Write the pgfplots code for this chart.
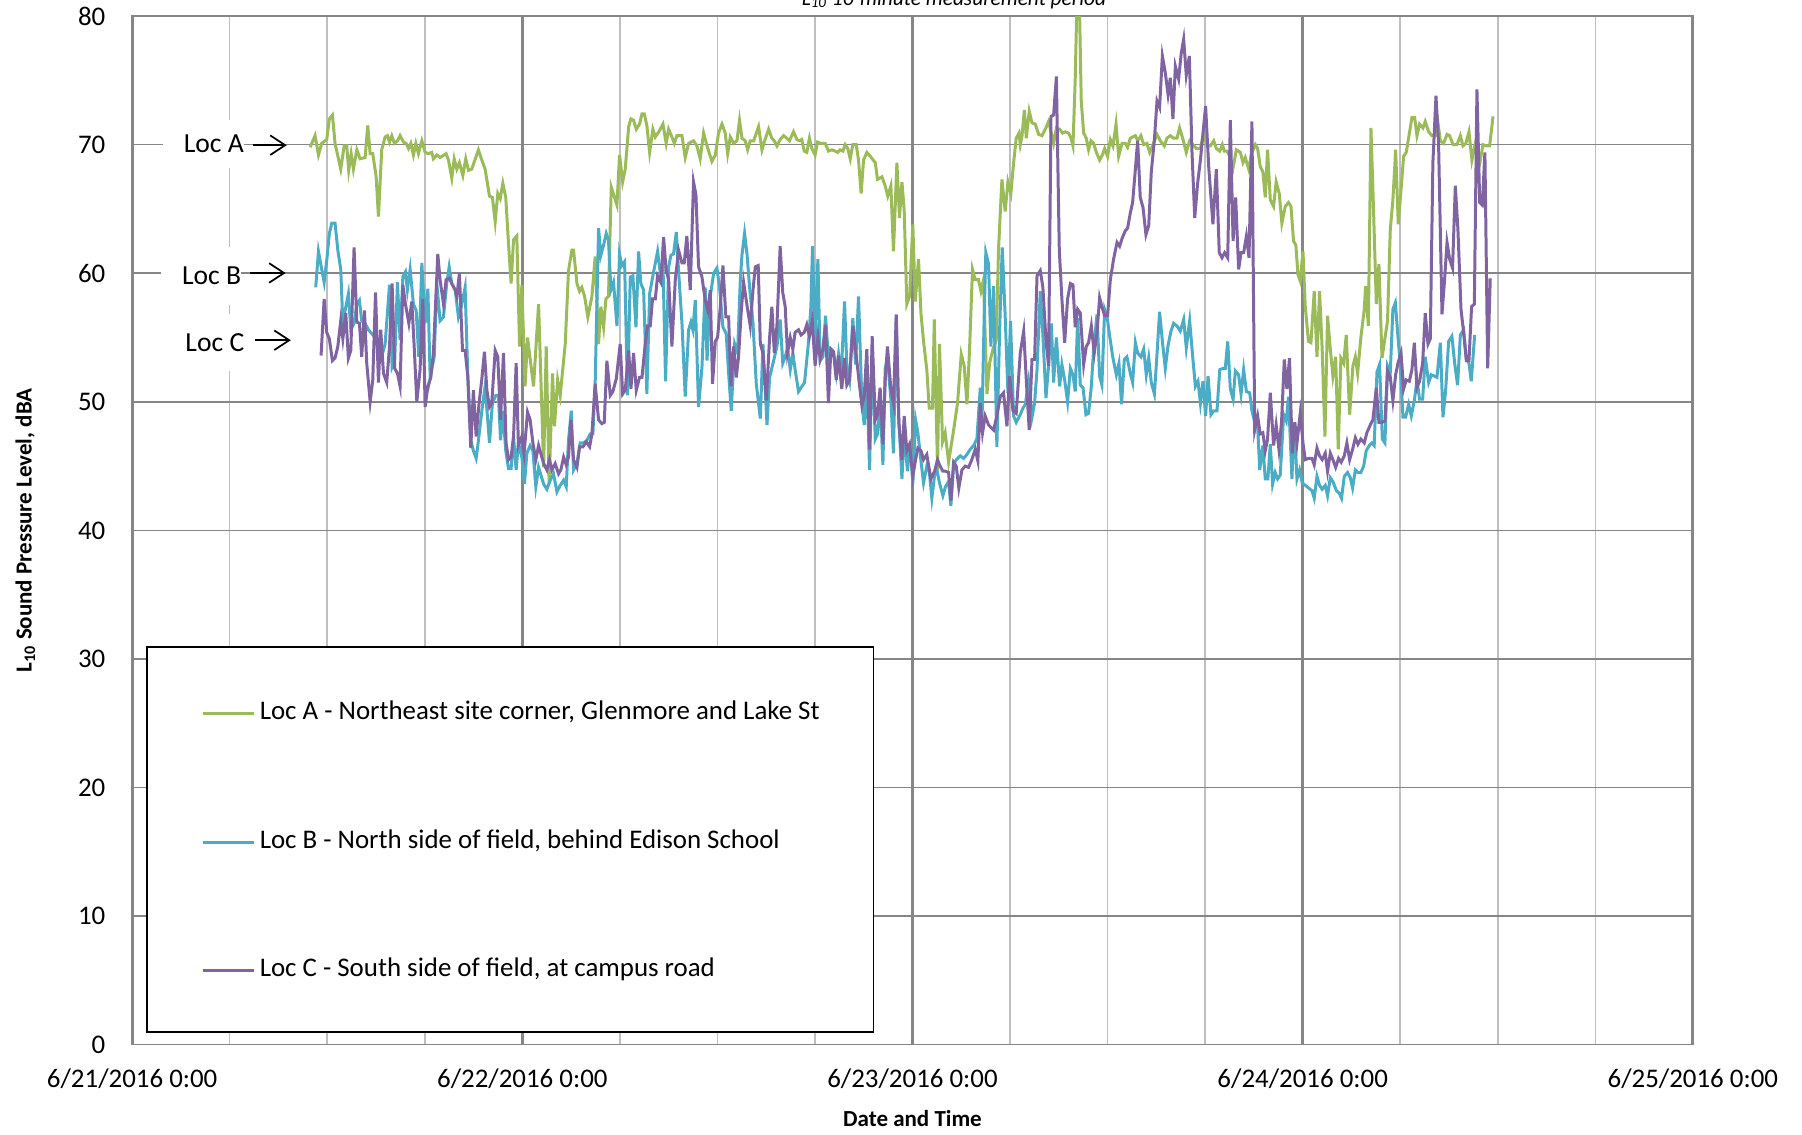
\documentclass[border=0pt]{standalone}
\usepackage{fontspec}
\setmainfont{Carlito}
\usepackage{pgfplots}
\pgfplotsset{compat=1.18}
\usetikzlibrary{arrows.meta}
\definecolor{locA}{HTML}{9BBB59}
\definecolor{locB}{HTML}{4BACC6}
\definecolor{locC}{HTML}{8064A2}
\definecolor{gridmaj}{HTML}{868686}
\definecolor{gridmin}{HTML}{BFBFBF}
\begin{document}
\begin{tikzpicture}
\useasboundingbox (-57.5pt,-39pt) rectangle (726.5pt,454.5pt);
\begin{axis}[
  at={(0pt,0pt)}, anchor=south west,
  scale only axis, width=679pt, height=447.5pt,
  xmin=0, xmax=96, ymin=0, ymax=80,
  clip mode=individual,
  xtick={0,24,48,72,96},
  xticklabels={6/21/2016 0:00,6/22/2016 0:00,6/23/2016 0:00,6/24/2016 0:00,6/25/2016 0:00},
  minor xtick={6,12,18,30,36,42,54,60,66,78,84,90},
  ytick={0,10,...,80},
  major tick length=0pt, minor tick length=0pt,
  xmajorgrids, xminorgrids, ymajorgrids,
  major x grid style={draw=gridmaj, line width=1.4pt},
  minor x grid style={draw=gridmin, line width=0.65pt},
  major y grid style={draw=gridmaj, line width=0.7pt},
  axis line style={draw=gridmaj, line width=0.7pt},
  /pgf/number format/assume math mode=true,
  tick label style={font=\fontsize{11.7}{13.5}\selectfont},
  yticklabel style={anchor=east, inner sep=0pt, xshift=-11.5pt},
  xticklabel style={anchor=center, yshift=-15pt},
  xlabel={\textbf{Date and Time}},
  ylabel={\textbf{L\textsubscript{10} Sound Pressure Level, dBA}},
  label style={font=\fontsize{12.5}{14}\selectfont},
  every axis x label/.style={at={(axis description cs:0.5,0)}, yshift=-32pt, anchor=center},
  every axis y label/.style={at={(axis description cs:0,0.5)}, xshift=-46.5pt, rotate=90, anchor=center},
  legend cell align=left,
  legend image code/.code={\draw[#1] (0pt,0pt) -- (22.5pt,0pt);},
  legend style={
    at={(axis description cs:0.0442,0.3363)}, anchor=north west,
    draw=none, fill=none, inner sep=0pt, outer sep=0pt,
    row sep=42.94pt, column sep=1.2pt,
    font=\fontsize{11.7}{13.5}\selectfont,
    nodes={inner xsep=0.5pt, inner ysep=2pt, text height=7pt, text depth=2pt},
  },
]
\draw[black, line width=0.8pt, fill=white] (axis cs:0.92,0.98) rectangle (axis cs:45.6,30.92);

\addplot[locA, line width=1.3pt] table {
10.95 69.8
11.25 70.7
11.46 69.2
11.66 70.1
11.97 70.4
12.13 72.0
12.32 72.3
12.48 70.1
12.83 68.1
13.04 69.9
13.20 69.9
13.32 68.0
13.47 69.3
13.61 68.1
13.82 69.6
14.02 68.9
14.33 69.0
14.49 71.5
14.64 69.3
14.80 69.3
15.01 67.5
15.15 64.4
15.35 69.6
15.56 70.6
15.70 70.7
15.83 70.2
15.97 70.7
16.13 70.1
16.32 70.3
16.48 70.7
16.69 70.2
16.85 70.1
17.00 69.7
17.14 70.1
17.30 69.2
17.45 70.1
17.61 69.3
17.82 70.3
18.02 69.4
18.23 69.3
18.43 69.4
18.53 68.9
18.74 69.2
18.94 69.0
19.31 69.3
19.46 68.8
19.66 67.4
19.81 68.9
19.97 68.1
20.13 68.6
20.34 67.6
20.52 68.9
20.69 68.0
20.89 68.1
21.30 69.6
21.51 68.8
21.71 68.1
21.98 66.0
22.16 65.9
22.33 64.0
22.49 66.2
22.64 65.8
22.80 67.0
22.98 65.9
23.15 62.3
23.31 59.2
23.46 62.6
23.66 62.9
23.83 54.3
23.97 59.1
24.17 51.2
24.32 55.0
24.69 51.2
25.00 57.6
25.31 44.9
25.47 54.3
25.65 43.6
25.86 52.2
25.98 48.1
26.17 51.7
26.33 50.5
26.64 54.5
26.84 60.2
27.05 61.8
27.15 61.8
27.36 59.2
27.52 58.6
27.66 58.9
27.83 58.2
28.03 56.6
28.28 58.2
28.48 61.3
28.69 54.5
28.83 57.4
29.00 55.8
29.14 58.0
29.30 58.2
29.47 66.7
29.82 65.3
29.98 69.2
30.17 67.1
30.33 68.1
30.54 71.4
30.68 72.0
30.84 71.9
31.01 71.2
31.21 71.6
31.36 72.4
31.50 72.4
31.66 71.5
31.83 69.4
32.03 71.2
32.18 70.6
32.44 71.1
32.65 71.6
32.85 70.1
33.00 71.2
33.20 70.6
33.35 70.1
33.51 70.7
33.82 70.7
34.02 69.0
34.23 70.1
34.53 70.3
34.74 69.9
34.94 68.9
35.15 70.9
35.36 69.9
35.66 68.7
35.87 69.2
36.07 70.9
36.28 71.6
36.48 70.9
36.63 69.3
36.79 70.6
37.00 70.1
37.20 70.3
37.36 71.9
37.51 70.5
37.71 70.3
37.86 69.6
38.02 70.3
38.23 70.3
38.53 71.4
38.74 69.6
38.88 70.2
39.15 71.2
39.35 70.5
39.50 70.3
39.66 69.9
39.86 70.4
40.07 70.7
40.27 70.5
40.43 70.3
40.68 71.0
40.89 70.4
41.05 70.3
41.19 70.4
41.34 69.5
41.50 69.4
41.66 70.5
41.81 69.7
42.01 69.2
42.16 70.2
42.36 70.1
42.63 70.1
42.83 69.5
43.04 69.6
43.24 69.5
43.39 69.4
43.55 69.6
43.72 69.5
43.86 70.0
44.02 69.7
44.17 68.9
44.33 70.0
44.54 70.0
44.68 68.8
44.84 66.2
44.99 68.8
45.19 69.4
45.40 69.1
45.71 68.6
45.85 67.3
46.12 67.5
46.32 66.8
46.48 66.0
46.67 66.8
46.83 61.7
47.04 68.6
47.20 64.3
47.35 67.1
47.49 64.9
47.65 57.6
47.82 58.2
48.02 63.8
48.17 57.8
48.37 61.1
48.52 56.9
48.68 54.7
48.88 52.5
49.03 49.5
49.23 49.5
49.34 56.4
49.54 44.7
49.66 54.5
49.85 46.9
50.01 47.6
50.22 45.3
50.53 47.8
50.77 49.9
51.00 53.7
51.18 52.8
51.35 49.8
51.51 54.1
51.69 60.3
51.86 59.5
52.06 59.5
52.21 58.6
52.37 59.5
52.58 50.6
52.74 53.0
52.95 54.1
53.15 54.8
53.29 61.8
53.50 67.3
53.70 64.8
53.87 67.1
54.05 66.2
54.22 68.6
54.38 70.5
54.55 70.9
54.63 70.0
54.73 70.6
54.88 72.7
55.00 70.5
55.18 72.6
55.35 71.7
55.55 71.6
55.76 70.8
55.96 70.7
56.17 71.2
56.37 71.8
56.52 71.0
56.68 70.1
56.85 71.3
57.05 71.2
57.23 70.9
57.40 71.0
57.60 70.9
57.75 70.5
57.87 69.9
58.01 75.1
58.12 81.5
58.26 81.5
58.38 73.4
58.53 70.9
58.69 70.5
58.83 69.6
58.98 70.3
59.14 70.1
59.31 69.4
59.51 68.8
59.68 69.2
59.82 69.7
60.00 69.1
60.17 70.4
60.33 69.9
60.52 71.6
60.68 69.1
60.89 70.1
61.09 70.1
61.23 69.8
61.40 70.5
61.71 70.7
61.85 70.3
62.05 70.7
62.22 70.0
62.42 70.1
62.59 69.4
62.79 70.0
63.04 70.8
63.24 70.3
63.49 69.9
63.65 70.5
63.86 70.7
64.06 70.5
64.27 70.5
64.43 71.3
64.64 70.4
64.84 69.4
65.05 70.3
65.25 70.0
65.46 69.7
65.71 69.7
65.91 70.9
66.12 69.9
66.32 69.9
66.53 70.3
66.69 69.7
66.90 69.5
67.06 70.0
67.18 69.5
67.35 69.5
67.51 69.1
67.72 68.2
67.92 69.6
68.17 69.4
68.33 68.6
68.47 69.0
68.68 68.1
68.88 69.4
69.09 70.0
69.23 69.7
69.39 68.3
69.55 67.9
69.70 65.9
69.84 69.6
70.01 65.7
70.21 65.2
70.37 67.1
70.56 66.2
70.72 63.9
70.93 65.2
71.13 65.5
71.28 65.2
71.44 62.5
71.58 62.2
71.71 59.9
71.85 59.4
72.02 61.7
72.16 57.4
72.36 54.7
72.51 54.6
72.71 58.6
72.88 53.5
73.04 58.6
73.20 54.1
73.37 47.3
73.53 56.7
73.70 54.1
73.86 52.0
74.03 53.5
74.19 46.3
74.35 53.4
74.52 53.0
74.68 55.2
74.89 49.0
75.09 52.8
75.24 53.5
75.38 52.2
75.58 55.0
75.79 57.2
75.87 59.0
76.04 55.9
76.20 71.3
76.36 64.9
76.53 57.6
76.69 60.7
76.88 53.4
77.08 55.1
77.22 56.3
77.39 63.4
77.55 65.7
77.72 69.6
77.88 63.8
78.05 66.5
78.21 69.1
78.37 69.4
78.54 70.7
78.72 72.1
78.89 72.1
79.03 70.7
79.19 71.6
79.40 71.3
79.54 71.8
79.75 71.0
79.95 70.7
80.16 70.7
80.32 71.7
80.47 70.3
80.67 70.1
80.88 70.8
81.04 70.7
81.25 70.0
81.49 70.0
81.70 70.7
81.86 69.9
82.04 70.1
82.23 71.0
82.41 68.8
82.62 70.1
82.76 69.6
82.93 68.8
83.09 70.0
83.30 69.9
83.50 69.9
83.71 72.2
};
\addlegendentry{Loc A - Northeast site corner, Glenmore and Lake St}

\addplot[locB, line width=1.3pt] table {
11.29 58.9
11.46 61.7
11.66 60.3
11.81 59.3
11.97 61.0
12.13 63.1
12.28 63.9
12.48 63.9
12.65 61.8
12.83 60.3
12.96 56.1
13.10 57.1
13.30 58.4
13.45 55.6
13.65 56.1
13.82 57.6
13.98 57.9
14.12 56.3
14.33 56.1
14.53 55.6
14.74 55.3
14.94 55.0
15.15 54.8
15.35 53.5
15.56 54.5
15.83 59.1
15.99 52.7
16.15 53.2
16.32 59.3
16.48 54.8
16.65 59.7
16.81 60.1
16.93 58.7
17.10 60.3
17.30 57.6
17.47 57.1
17.63 53.5
17.82 60.8
18.02 56.1
18.19 58.8
18.33 51.9
18.58 53.5
18.74 59.2
18.94 56.3
19.15 56.6
19.35 59.2
19.50 60.5
19.66 59.2
19.87 58.7
20.07 56.6
20.28 57.6
20.48 58.9
20.65 51.9
20.83 47.0
20.99 46.2
21.16 45.6
21.30 47.0
21.51 49.3
21.71 51.2
21.98 46.8
22.16 49.9
22.37 50.5
22.53 50.5
22.66 47.0
22.80 49.3
22.98 46.2
23.15 44.8
23.31 44.8
23.46 47.3
23.62 44.7
23.76 46.8
23.97 45.7
24.13 43.6
24.28 46.0
24.48 46.6
24.65 46.2
24.83 43.4
25.00 44.9
25.31 43.6
25.51 43.2
25.72 43.9
25.92 44.4
26.13 43.0
26.33 43.5
26.54 43.9
26.70 43.4
26.84 47.0
27.01 49.3
27.15 44.7
27.36 45.2
27.56 46.8
27.77 46.8
27.97 47.0
28.18 47.5
28.34 47.5
28.48 51.4
28.69 63.5
28.83 61.4
29.00 62.2
29.16 63.1
29.30 62.6
29.45 58.7
29.61 59.3
29.82 55.9
29.98 61.5
30.12 60.6
30.29 60.9
30.47 50.5
30.64 59.7
30.80 59.8
30.99 55.8
31.15 61.7
31.29 59.2
31.46 58.7
31.66 50.6
31.83 58.4
32.03 59.8
32.32 61.7
32.48 60.1
32.65 60.8
32.81 51.6
33.00 60.5
33.14 61.4
33.30 61.5
33.47 63.2
33.61 60.2
33.82 56.1
34.02 50.4
34.23 55.6
34.37 56.2
34.49 55.6
34.64 57.9
34.84 49.6
35.05 52.7
35.25 58.9
35.36 53.2
35.56 58.2
35.77 60.0
35.97 60.4
36.13 58.9
36.34 55.8
36.54 55.3
36.69 52.2
36.85 49.3
37.06 54.5
37.24 53.8
37.41 59.5
37.51 61.4
37.67 63.1
37.82 61.5
37.98 58.9
38.19 56.1
38.39 51.4
38.64 48.7
38.80 54.5
39.05 48.2
39.21 51.9
39.46 53.2
39.66 54.3
39.86 56.4
40.02 53.0
40.17 53.5
40.31 54.2
40.48 52.5
40.64 53.8
40.78 52.5
40.99 50.8
41.15 51.1
41.36 51.5
41.60 54.6
41.75 57.4
41.85 62.1
42.01 54.3
42.18 61.1
42.32 53.2
42.49 53.5
42.65 56.7
42.83 53.3
42.98 54.1
43.14 53.9
43.31 52.2
43.45 53.7
43.61 51.9
43.82 57.8
43.96 52.8
44.13 51.7
44.33 56.5
44.50 52.9
44.68 58.2
44.89 49.9
45.03 48.2
45.19 51.7
45.36 44.7
45.52 54.1
45.71 47.1
45.85 47.5
46.01 50.2
46.18 45.1
46.32 52.6
46.46 53.4
46.67 50.2
46.83 46.0
47.00 56.5
47.16 48.5
47.35 44.0
47.49 47.6
47.69 44.6
47.86 46.8
48.02 43.6
48.19 48.6
48.33 47.6
48.52 45.4
48.68 43.7
48.88 45.0
49.03 44.6
49.19 42.5
49.36 44.3
49.50 44.7
49.66 43.7
49.87 42.7
50.03 43.4
50.22 43.8
50.36 41.9
50.53 45.1
50.69 45.5
50.94 45.8
51.14 45.6
51.35 45.9
51.55 46.3
51.76 46.6
51.96 47.1
52.17 51.1
52.27 48.1
52.41 56.7
52.51 61.6
52.68 60.7
52.82 54.3
52.99 59.0
53.19 46.5
53.36 55.6
53.52 62.0
53.70 56.7
53.87 50.7
54.03 56.3
54.22 48.9
54.38 48.4
54.63 49.0
54.79 49.5
54.94 49.8
55.14 51.6
55.35 48.8
55.51 49.9
55.66 52.5
55.86 58.6
56.02 55.2
56.21 50.3
56.37 52.8
56.54 56.1
56.68 51.5
56.85 55.0
57.05 51.2
57.19 52.9
57.36 51.7
57.54 50.0
57.71 52.6
57.87 52.1
58.01 50.8
58.16 56.5
58.32 51.3
58.49 51.1
58.67 49.0
58.83 49.1
59.00 51.2
59.14 54.1
59.35 56.8
59.51 52.0
59.65 51.3
59.82 57.2
59.96 56.7
60.13 55.1
60.33 53.4
60.54 52.1
60.70 53.0
60.86 49.8
61.03 53.3
61.19 53.5
61.40 52.2
61.54 51.5
61.71 54.6
61.85 53.8
62.05 53.5
62.22 54.1
62.38 52.1
62.53 53.4
62.69 51.5
62.88 50.6
63.04 53.7
63.20 57.0
63.37 54.7
63.55 52.6
63.72 54.4
63.90 55.5
64.06 56.1
64.27 55.9
64.47 55.5
64.68 56.4
64.84 54.2
65.05 56.3
65.25 53.3
65.40 51.2
65.56 51.6
65.71 49.9
65.87 51.6
66.03 48.9
66.18 52.0
66.36 49.0
66.53 49.3
66.73 49.3
66.90 52.5
67.10 52.6
67.24 52.6
67.39 54.7
67.55 51.0
67.72 50.2
67.86 52.4
68.06 52.1
68.21 50.6
68.37 52.5
68.54 50.8
68.74 50.7
68.88 49.3
69.09 48.2
69.23 48.1
69.36 44.7
69.55 46.6
69.70 44.0
69.86 44.0
70.01 46.7
70.15 43.6
70.31 44.5
70.46 44.0
70.62 44.3
70.83 49.0
70.99 48.5
71.13 50.4
71.34 44.0
71.48 48.4
71.65 44.0
71.81 44.7
71.97 43.7
72.16 43.5
72.36 43.3
72.57 43.1
72.71 42.5
72.88 44.2
73.04 43.5
73.20 43.2
73.39 43.5
73.53 42.7
73.70 44.1
73.86 43.8
74.07 43.1
74.25 42.9
74.39 42.5
74.56 44.2
74.76 44.5
74.93 44.1
75.07 43.3
75.24 44.7
75.40 44.5
75.58 44.5
75.75 45.0
75.91 46.2
76.10 46.6
76.26 46.8
76.40 46.6
76.57 52.3
76.73 52.9
76.90 47.1
77.06 46.8
77.22 52.8
77.39 52.3
77.55 57.2
77.70 57.7
77.86 55.1
78.00 52.9
78.17 48.8
78.33 48.8
78.52 49.8
78.68 48.9
78.87 50.1
79.03 51.7
79.19 50.2
79.38 50.2
79.54 53.5
79.75 51.5
79.91 52.1
80.10 52.0
80.26 51.9
80.47 54.6
80.63 48.8
80.79 50.8
80.98 54.7
81.18 55.1
81.35 53.0
81.53 51.3
81.70 55.2
81.90 55.6
82.07 53.3
82.23 53.0
82.37 51.6
82.58 55.2
};
\addlegendentry{Loc B - North side of field, behind Edison School}

\addplot[locC, line width=1.3pt] table {
11.62 53.6
11.81 58.0
11.97 55.4
12.13 54.9
12.32 53.2
12.48 53.4
12.65 54.3
12.83 56.3
12.96 54.9
13.14 56.9
13.30 53.4
13.45 54.0
13.65 62.0
13.82 56.2
13.98 56.1
14.12 53.5
14.29 57.1
14.43 53.0
14.64 50.0
14.80 51.7
14.97 58.5
15.15 51.5
15.29 55.6
15.46 52.2
15.66 51.5
15.83 54.3
15.99 59.2
16.15 52.6
16.32 52.2
16.48 51.2
16.65 59.1
16.81 57.6
17.02 56.1
17.20 57.8
17.34 54.5
17.51 50.0
17.71 52.5
17.88 58.0
18.02 49.6
18.19 51.2
18.37 51.9
18.53 53.8
18.80 61.5
18.94 59.5
19.15 57.6
19.31 59.5
19.52 59.6
19.66 59.2
19.87 58.7
19.97 58.2
20.13 60.0
20.32 54.0
20.48 54.0
20.65 51.9
20.83 46.4
20.99 50.9
21.16 47.3
21.34 49.9
21.51 51.8
21.67 53.9
21.82 50.9
21.98 49.6
22.12 49.9
22.33 54.0
22.49 53.5
22.66 48.6
22.84 53.8
23.00 46.8
23.15 45.5
23.31 45.7
23.46 47.3
23.62 53.0
23.76 46.6
23.97 47.3
24.11 46.0
24.32 49.2
24.48 48.6
24.65 46.8
24.83 45.5
25.00 46.6
25.31 45.2
25.51 44.7
25.67 45.5
25.82 44.7
26.02 45.2
26.23 44.4
26.37 44.7
26.54 45.7
26.70 45.1
26.84 45.7
26.99 48.6
27.15 45.5
27.36 44.9
27.52 46.5
27.73 46.5
27.93 46.9
28.14 46.5
28.28 47.5
28.48 51.4
28.69 48.6
28.89 48.3
29.04 48.4
29.20 53.2
29.41 50.5
29.57 50.8
29.78 51.8
30.02 54.5
30.17 50.6
30.33 50.9
30.54 54.0
30.68 51.0
30.84 53.8
31.01 50.9
31.21 51.9
31.36 51.9
31.56 54.5
31.70 55.9
31.87 55.9
32.01 58.0
32.18 58.0
32.32 59.8
32.52 59.3
32.69 62.8
32.85 60.2
33.00 59.5
33.20 54.3
33.41 59.5
33.61 61.8
33.82 60.8
33.96 60.8
34.12 62.9
34.33 58.7
34.53 67.1
34.68 66.1
34.84 60.5
35.05 59.7
35.25 57.9
35.41 57.1
35.56 58.7
35.70 51.4
35.87 54.7
36.01 55.0
36.18 57.4
36.34 60.6
36.52 56.6
36.69 56.6
36.83 51.2
37.00 54.3
37.16 51.9
37.30 53.5
37.47 57.1
37.61 59.3
37.82 57.5
38.02 55.9
38.19 58.7
38.33 60.5
38.51 60.6
38.64 54.5
38.80 53.8
39.01 50.1
39.21 55.0
39.35 57.4
39.50 53.8
39.66 55.9
39.86 62.1
40.02 58.5
40.17 57.4
40.31 53.8
40.48 55.0
40.64 54.1
40.78 55.4
40.99 55.6
41.15 55.2
41.34 55.4
41.50 56.0
41.66 55.1
41.83 56.3
42.01 52.8
42.18 55.0
42.32 53.3
42.49 54.1
42.65 56.0
42.83 49.9
42.98 54.1
43.14 53.9
43.31 51.7
43.45 53.6
43.65 51.0
43.82 53.4
43.96 51.3
44.13 51.7
44.33 55.9
44.54 53.6
44.72 51.5
44.89 49.7
45.03 50.4
45.19 54.1
45.36 46.3
45.52 55.1
45.71 48.6
45.85 49.0
46.01 51.1
46.18 46.7
46.32 51.6
46.46 54.3
46.67 51.0
46.83 49.9
47.00 56.8
47.16 48.4
47.35 45.5
47.49 48.9
47.65 46.2
47.82 46.7
48.02 44.2
48.19 45.5
48.33 46.4
48.52 46.2
48.68 45.5
48.88 45.9
49.13 44.0
49.36 44.6
49.54 45.5
49.66 45.1
49.87 44.6
50.03 44.6
50.22 44.5
50.36 42.3
50.53 45.3
50.69 45.0
50.85 43.3
51.04 44.7
51.24 45.0
51.45 44.9
51.65 45.5
51.86 46.3
52.02 45.4
52.17 49.9
52.31 47.6
52.47 48.9
52.68 48.2
52.99 47.8
53.19 48.9
53.40 50.4
53.60 50.7
53.81 48.1
53.97 52.0
54.18 49.3
54.38 49.1
54.63 53.8
54.84 55.5
55.00 51.7
55.18 47.8
55.35 53.3
55.51 53.3
55.66 59.8
55.86 60.2
56.02 58.9
56.21 54.8
56.37 52.8
56.52 72.2
56.68 72.3
56.85 75.3
57.03 61.8
57.19 58.0
57.36 54.6
57.54 58.0
57.71 59.2
57.87 59.1
58.01 55.8
58.16 57.2
58.32 56.9
58.53 52.9
58.69 54.3
58.83 54.6
59.00 55.9
59.18 53.8
59.35 55.4
59.51 58.1
59.65 57.4
59.82 56.7
60.00 56.7
60.17 59.5
60.37 61.1
60.58 62.4
60.74 62.1
60.89 62.7
61.09 63.3
61.23 63.5
61.40 64.7
61.54 65.5
61.71 68.1
61.85 70.3
62.01 65.9
62.18 65.1
62.36 63.0
62.53 63.7
62.69 67.9
62.88 70.4
63.04 73.4
63.20 72.9
63.37 76.9
63.55 75.6
63.72 73.9
63.86 75.2
64.02 72.0
64.17 76.1
64.37 75.1
64.53 77.1
64.68 78.2
64.84 75.4
65.03 76.9
65.19 69.5
65.36 64.3
65.54 67.0
65.71 68.8
65.87 70.9
66.03 73.0
66.22 68.3
66.48 63.8
66.69 68.1
66.87 61.6
67.04 61.2
67.20 61.6
67.39 61.2
67.55 71.9
67.72 62.5
67.88 65.9
68.06 60.3
68.21 61.6
68.37 61.6
68.54 62.9
68.70 61.2
68.88 71.8
69.05 47.8
69.23 48.9
69.39 47.5
69.55 47.6
69.70 46.2
69.84 47.1
70.01 50.7
70.21 46.6
70.37 48.2
70.54 46.3
70.70 48.4
70.87 53.3
71.03 51.0
71.19 53.4
71.36 46.0
71.52 48.4
71.65 46.8
71.85 49.1
72.02 46.8
72.16 45.5
72.36 45.6
72.57 45.6
72.71 45.1
72.88 46.4
73.04 45.8
73.20 45.5
73.39 46.0
73.53 44.6
73.70 46.0
73.86 45.5
74.03 44.9
74.21 45.6
74.37 45.3
74.56 45.8
74.72 46.8
74.89 45.5
75.07 46.3
75.24 47.2
75.40 46.7
75.58 47.1
75.79 46.8
75.95 47.6
76.16 48.2
76.32 48.6
76.53 51.1
76.69 48.4
76.88 48.4
77.06 48.5
77.22 52.4
77.39 51.9
77.55 50.1
77.72 52.1
77.86 53.0
78.05 53.8
78.21 51.0
78.37 51.7
78.56 51.6
78.72 52.5
78.87 54.6
79.03 51.1
79.19 51.6
79.38 53.0
79.54 56.9
79.71 54.5
79.85 54.9
80.01 68.6
80.20 73.8
80.36 70.1
80.57 56.8
80.73 59.5
80.88 62.4
81.04 61.1
81.22 60.4
81.39 66.8
81.55 63.4
81.74 57.2
81.90 55.4
82.07 53.2
82.23 53.2
82.39 57.4
82.56 57.6
82.72 74.3
82.89 65.5
83.05 65.3
83.21 69.4
83.38 52.6
83.54 59.6
};
\addlegendentry{Loc C - South side of field, at campus road}

\node[fill=white, inner xsep=0pt, inner ysep=0pt, minimum height=21pt, anchor=west, font=\fontsize{12}{14}\selectfont] at (axis cs:1.88,70.06) {\hspace{9pt}Loc A\hspace{24pt}};
\node[fill=white, inner xsep=0pt, inner ysep=0pt, minimum height=25.4pt, anchor=west, font=\fontsize{12}{14}\selectfont] at (axis cs:1.77,59.8) {\hspace{9pt}Loc B\hspace{24pt}};
\node[fill=white, inner xsep=0pt, inner ysep=0pt, minimum height=24.9pt, anchor=west, font=\fontsize{12}{14}\selectfont] at (axis cs:1.98,54.6) {\hspace{9pt}Loc C\hspace{24pt}};
\draw[black, line width=0.75pt, -{Straight Barb[length=6.5pt,width=8.5pt]}] (axis cs:7.46,69.96) -- (axis cs:9.51,69.96);
\draw[black, line width=0.75pt, -{Straight Barb[length=6.5pt,width=8.5pt]}] (axis cs:7.25,60.02) -- (axis cs:9.44,60.02);
\draw[black, line width=0.75pt, -{Straight Barb[length=6.5pt,width=8.5pt]}] (axis cs:7.56,54.79) -- (axis cs:9.76,54.79);
\node[anchor=base, font=\fontsize{9.3}{11}\selectfont\itshape, inner sep=0pt] at (axis cs:50.55,80) [yshift=4.7pt] {L\textsubscript{10} 10-minute measurement period};
\end{axis}
\end{tikzpicture}
\end{document}
